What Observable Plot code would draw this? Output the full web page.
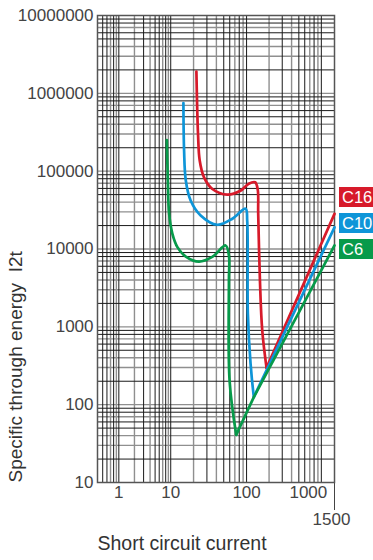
<!DOCTYPE html>
<html>
<head>
<meta charset="utf-8">
<script src="https://cdn.jsdelivr.net/npm/d3@7"></script>
<script src="https://cdn.jsdelivr.net/npm/@observablehq/plot@0.6"></script>
<style>
html, body { margin: 0; padding: 0; background: #fff; }
#chart { position: relative; width: 373px; height: 560px; font-family: "Liberation Sans", Arial, sans-serif; }
.key { position: absolute; left: 339px; width: 34px; height: 20px; color: #fff; font-size: 16.5px; line-height: 20px; padding-left: 3px; box-sizing: border-box; }
</style>
</head>
<body>
<div id="chart"></div>
<script>
// ---- data ----
const c16Current = [21.8, 22.9, 24.1, 27.4, 35.4, 55.7, 83, 107, 130, 141, 143, 151, 162, 185];
const c16Energy  = [1.9e6, 3.0e5, 1.37e5, 8.4e4, 5.9e4, 5.0e4, 5.6e4, 6.9e4, 7.2e4, 5.8e4, 2.9e4, 3.9e3, 900, 297];
const c16RampCurrent = [185, 1500];
const c16RampEnergy  = [297, 2.83e4];

const c10Current = [14.7, 15.0, 15.8, 18.3, 24.8, 41.2, 65, 97, 102, 104, 113, 125];
const c10Energy  = [7.5e5, 1.84e5, 7.6e4, 4.2e4, 2.7e4, 2.05e4, 2.45e4, 3.3e4, 2.3e4, 1480, 340, 125];
const c10RampCurrent = [125, 1500];
const c10RampEnergy  = [125, 1.9e4];

const c6Current = [8.4, 8.8, 9.3, 10.5, 12.3, 15.8, 23.6, 35.7, 52.9, 58.5, 58.5, 59.7, 73];
const c6Energy  = [2.5e5, 7.6e4, 2.86e4, 1.58e4, 1.05e4, 8000, 6900, 8000, 1.11e4, 8250, 3940, 204, 41];
const c6RampCurrent = [73, 125, 1500];
const c6RampEnergy  = [41, 125, 1.11e4];

const seriesNames  = ["C16", "C10", "C6"];
const seriesColors = ["#d71a2a", "#0e95d8", "#079a4a"];

const xTickLabels = [1, 10, 100];
const xTickLast = [1000];
const xEnd = [1500];
const yTickLabels = [10, 100, 1000, 10000, 100000, 1000000, 10000000];
const xBreaks = [0.4, 1, 10, 100, 1500];      // the chart's x axis is log per piece
const xBreakShare = [0, 0.09, 0.309, 0.629, 1];

const xTitle = "Short circuit current";
const yTitle = "Specific through energy  I2t";

// ---- build ----
const toRows = (xs, ys, name) => xs.map((x, i) => ({current: x, energy: ys[i], name}));
const curves = [
  ...toRows(c16Current, c16Energy, "C16"),
  ...toRows(c10Current, c10Energy, "C10"),
  ...toRows(c6Current, c6Energy, "C6")
];
const ramps = [
  ...toRows(c16RampCurrent, c16RampEnergy, "C16"),
  ...toRows(c10RampCurrent, c10RampEnergy, "C10"),
  ...toRows(c6RampCurrent, c6RampEnergy, "C6")
];

// log grid, one line per multiple; lines alternate black and gray as in the print
const decadesX = [0.1, 1, 10, 100, 1000];
const decadesY = [10, 100, 1000, 10000, 100000, 1000000];
const kBlackX = [1, 3, 5, 6, 8];
const kGrayX  = [2, 4, 7, 9];
const kBlackY = [2, 5, 6, 8, 9];
const kGrayY  = [1, 3, 4, 7];
const mult = (decs, ks) => decs.flatMap(d => ks.map(k => k * d));
const inX = v => v > 0.4 && v < 1500, inY = v => v > 10 && v < 1e7;
const xBlack = mult(decadesX, kBlackX).filter(inX);
const xGray  = mult(decadesX, kGrayX).filter(inX);
const yBlack = mult(decadesY, kBlackY).filter(inY);
const yGray  = mult(decadesY, kGrayY).filter(inY);

const W = 373, H = 560, mL = 97, mR = 39, mT = 15, mB = 78;
const left = mL, right = W - mR;

const plot = Plot.plot({
  width: W,
  height: H,
  marginLeft: mL,
  marginRight: mR,
  marginTop: mT,
  marginBottom: mB,
  style: {fontFamily: "Liberation Sans, Arial, sans-serif", fontSize: "17px", color: "#444", background: "transparent"},
  x: {type: "log", domain: xBreaks, range: xBreakShare.map(f => left + f * (right - left)),
      ticks: xEnd, tickFormat: () => "", tickSize: 28, label: null},
  y: {type: "log", domain: [10, 1e7], ticks: yTickLabels, tickFormat: d => String(d),
      tickSize: 0, tickPadding: 4, label: null},
  color: {domain: seriesNames, range: seriesColors},
  marks: [
    Plot.ruleX(xGray, {stroke: "#8f8f8f", strokeWidth: 1.4}),
    Plot.ruleY(yGray, {stroke: "#8f8f8f", strokeWidth: 1.4}),
    Plot.ruleX(xBlack, {stroke: "#1a1a1a", strokeWidth: 1}),
    Plot.ruleY(yBlack, {stroke: "#1a1a1a", strokeWidth: 1}),
    Plot.frame({stroke: "#555", strokeWidth: 1.5}),
    Plot.line(curves, {x: "current", y: "energy", z: "name", stroke: "name", strokeWidth: 2.7, curve: "catmull-rom"}),
    Plot.line(ramps, {x: "current", y: "energy", z: "name", stroke: "name", strokeWidth: 2.7}),
    Plot.text(xTickLabels, {x: d => d, text: d => String(d), frameAnchor: "bottom", dy: 15, fill: "#444"}),
    Plot.text(xTickLast, {x: d => d, text: d => String(d), frameAnchor: "bottom", dy: 15, dx: -13, fill: "#444"}),
    Plot.text(xEnd, {x: d => d, text: d => String(d), frameAnchor: "bottom", dy: 42, dx: -3, fill: "#444"}),
    Plot.text([xTitle], {frameAnchor: "bottom-left", textAnchor: "start", dy: 67, fontSize: 19.5, fill: "#333"}),
    Plot.text([yTitle], {frameAnchor: "bottom-left", textAnchor: "start", rotate: -90, dx: -76, fontSize: 19, fill: "#333"})
  ]
});

const chart = document.getElementById("chart");
chart.appendChild(plot);

seriesNames.forEach((name, i) => {
  const div = document.createElement("div");
  div.className = "key";
  div.style.top = (187 + i * 26) + "px";
  div.style.background = seriesColors[i];
  div.textContent = name;
  chart.appendChild(div);
});
</script>
</body>
</html>
